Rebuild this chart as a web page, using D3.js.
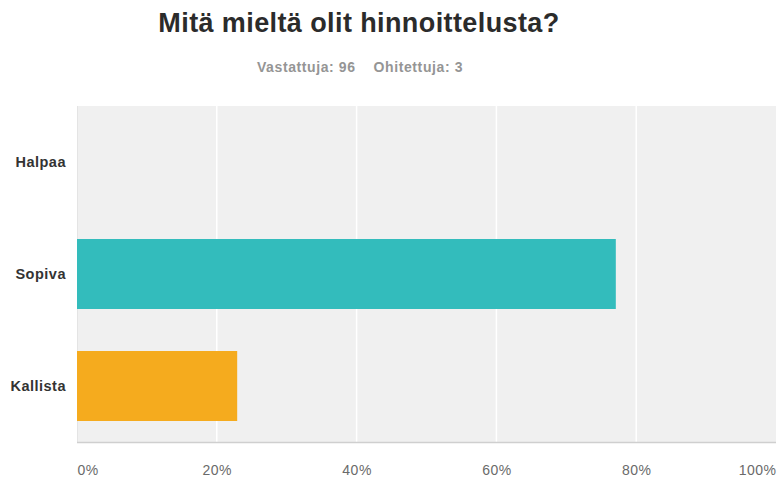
<!DOCTYPE html>
<html>
<head>
<meta charset="utf-8">
<script src="https://cdn.jsdelivr.net/npm/d3@7"></script>
<style>
  html, body { margin: 0; padding: 0; background: #fff; }
  svg { display: block; font-family: "Liberation Sans", Arial, sans-serif; }
</style>
</head>
<body>
<svg id="chart" width="778" height="478"></svg>
<script>
// Survey answers: share of respondents per option
const categories = ["Halpaa", "Sopiva", "Kallista"];
const answerCounts = [0, 74, 22];
const answered = 96;
const skipped = 3;
const percentValues = answerCounts.map(c => c / answered * 100);
const barColors = ["#33bcbc", "#33bcbc", "#f5ab1e"];
const tickValues = [0, 20, 40, 60, 80, 100];

const svg = d3.select("#chart");
const margin = { top: 106, right: 2, bottom: 36, left: 77 };
const W = 778, H = 478;
const innerW = W - margin.left - margin.right;
const innerH = H - margin.top - margin.bottom;

const x = d3.scaleLinear().domain([0, 100]).range([0, innerW]);
const y = d3.scaleBand().domain(categories).range([0, innerH]).paddingInner(0.375).paddingOuter(0.1875);

// Title and response summary
svg.append("text")
  .attr("x", 359).attr("y", 32)
  .attr("text-anchor", "middle")
  .attr("font-size", 27).attr("font-weight", "bold")
  .attr("letter-spacing", 0.4)
  .attr("fill", "#2b2b2b")
  .text("Mitä mieltä olit hinnoittelusta?");

svg.append("text")
  .attr("x", 360).attr("y", 72)
  .attr("text-anchor", "middle")
  .attr("font-size", 14).attr("font-weight", "bold")
  .attr("letter-spacing", 0.6)
  .attr("fill", "#959595")
  .attr("xml:space", "preserve")
  .text(`Vastattuja: ${answered}    Ohitettuja: ${skipped}`);

const g = svg.append("g").attr("transform", `translate(${margin.left},${margin.top})`);

// Plot background
g.append("rect")
  .attr("x", 0).attr("y", 0)
  .attr("width", innerW).attr("height", innerH)
  .attr("fill", "#f0f0f0");

// Vertical gridlines
g.selectAll("line.grid")
  .data(tickValues.filter(t => t > 0 && t < 100))
  .join("line")
  .attr("class", "grid")
  .attr("x1", d => x(d)).attr("x2", d => x(d))
  .attr("y1", 0).attr("y2", innerH)
  .attr("stroke", "#ffffff").attr("stroke-width", 1.5);

// Left edge
g.append("line")
  .attr("x1", 0.5).attr("x2", 0.5)
  .attr("y1", 0).attr("y2", innerH)
  .attr("stroke", "#e4e4e4");

// Bars
g.selectAll("rect.bar")
  .data(categories.map((c, i) => ({ c, v: percentValues[i], color: barColors[i] })))
  .join("rect")
  .attr("class", "bar")
  .attr("x", 0)
  .attr("y", d => y(d.c))
  .attr("width", d => x(d.v))
  .attr("height", y.bandwidth())
  .attr("fill", d => d.color);

// Bottom axis line
g.append("line")
  .attr("x1", 0).attr("x2", innerW)
  .attr("y1", innerH + 0.5).attr("y2", innerH + 0.5)
  .attr("stroke", "#cfcfcf").attr("stroke-width", 1.5);

// Category labels
const yAxis = g.append("g").call(d3.axisLeft(y).tickSize(0).tickPadding(11));
yAxis.select(".domain").remove();
yAxis.selectAll("text")
  .attr("font-size", 14.5).attr("font-weight", "bold")
  .attr("letter-spacing", 0.5)
  .attr("fill", "#333333")
  .attr("font-family", "'Liberation Sans', Arial, sans-serif");

// Percentage labels
const xAxis = g.append("g")
  .attr("transform", `translate(0,${innerH})`)
  .call(d3.axisBottom(x).tickValues(tickValues).tickFormat(d => d + "%").tickSize(0).tickPadding(23));
xAxis.select(".domain").remove();
xAxis.selectAll("text")
  .attr("font-size", 14)
  .attr("letter-spacing", 0.5)
  .attr("fill", "#6a6a6a")
  .attr("font-family", "'Liberation Sans', Arial, sans-serif")
  .attr("text-anchor", (d, i) => i === 0 ? "start" : (i === tickValues.length - 1 ? "end" : "middle"));
</script>
</body>
</html>
